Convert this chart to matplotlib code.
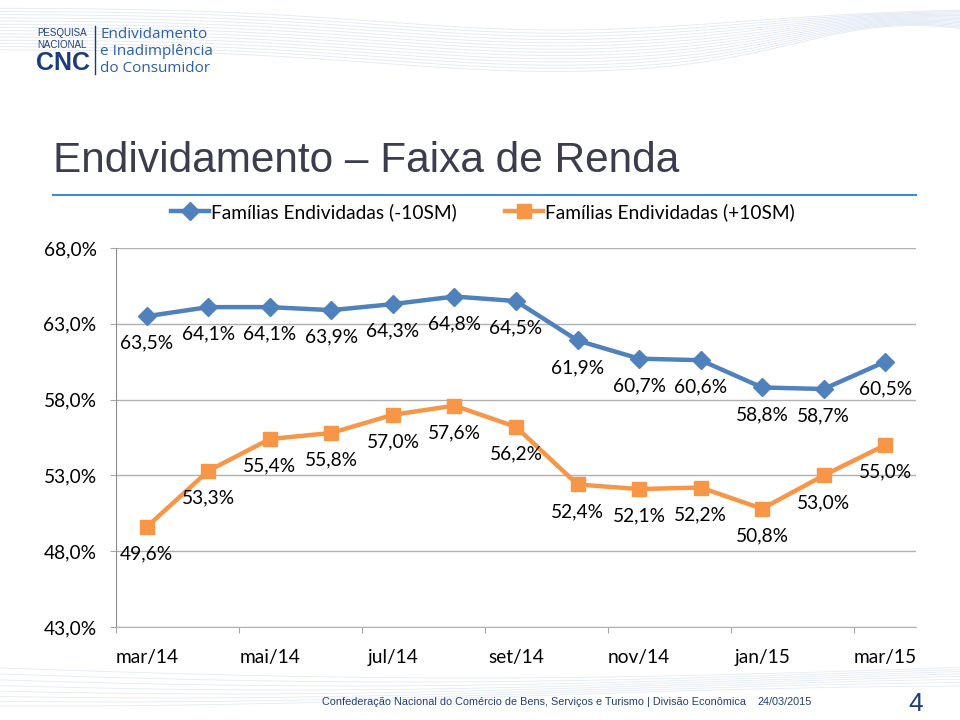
import numpy as np
import matplotlib
matplotlib.use("Agg")
import matplotlib.pyplot as plt
from matplotlib.lines import Line2D

# data
months = ["mar/14", "abr/14", "mai/14", "jun/14", "jul/14", "ago/14", "set/14",
          "out/14", "nov/14", "dez/14", "jan/15", "fev/15", "mar/15"]
ate_10sm = [63.5, 64.1, 64.1, 63.9, 64.3, 64.8, 64.5, 61.9, 60.7, 60.6, 58.8, 58.7, 60.5]
mais_10sm = [49.6, 53.3, 55.4, 55.8, 57.0, 57.6, 56.2, 52.4, 52.1, 52.2, 50.8, 53.0, 55.0]
series_names = ["Famílias Endividadas (-10SM)", "Famílias Endividadas (+10SM)"]
y_ticks = [43, 48, 53, 58, 63, 68]

BLUE = "#4F81BD"
ORANGE = "#F79646"
NAVY = "#1F3F7A"
LABEL_FONT = ["Lato", "DejaVu Sans"]
ARIAL = ["Liberation Sans", "DejaVu Sans"]


def pct(v):
    return f"{v:.1f}%".replace(".", ",")


fig = plt.figure(figsize=(9.6, 7.2), dpi=100)

# background decoration (header / footer swooshes)
bg = fig.add_axes([0, 0, 1, 1], zorder=-5)
bg.set_xlim(0, 960)
bg.set_ylim(720, 0)
bg.axis("off")
xs = np.linspace(0, 960, 300)
for k in range(14):
    top = 8 + 3.2 * k + 22 * np.exp(-((xs - 560) / 260) ** 2) - 30 * np.exp(-((xs - 900) / 140) ** 2) * (k / 14)
    bg.plot(xs, top, color="#C9D6EA", lw=0.6, alpha=0.55)
for k in range(8):
    bot = 668 + 4.0 * k + 10 * np.sin(xs / 300 + k * 0.2)
    bg.plot(xs, bot, color="#C9D6EA", lw=0.6, alpha=0.5)

# logo
fig.text(37 / 960, 1 - 33 / 720, "PESQUISA", fontsize=7, color=NAVY, va="center", family=ARIAL)
fig.text(37 / 960, 1 - 45 / 720, "NACIONAL", fontsize=7, color=NAVY, va="center", family=ARIAL)
fig.text(36 / 960, 1 - 63 / 720, "CNC", fontsize=18, color="#1A3C7C", va="center",
         weight="bold", family=ARIAL)
bg.plot([95, 95], [26, 74], color="#1A3C7C", lw=1)
for i, t in enumerate(["Endividamento", "e Inadimplência", "do Consumidor"]):
    fig.text(100 / 960, 1 - (34 + 17.5 * i) / 720, t, fontsize=11, color="#2C5FA8",
             va="center", family=["Open Sans", "DejaVu Sans"])

# title with underline
fig.text(53 / 960, 1 - 172 / 720, "Endividamento \u2013 Faixa de Renda", fontsize=30.5,
         color="#3B3D4F", va="baseline", family=ARIAL)
bg.plot([53, 916], [195, 195], color="#3E8DCB", lw=1.5)

# chart
ax = fig.add_axes([116 / 960, 1 - 627 / 720, 800 / 960, 379 / 720])
x = np.arange(len(months))
ax.plot(x, ate_10sm, color=BLUE, lw=3.2, marker="D", ms=9, zorder=3)
ax.plot(x, mais_10sm, color=ORANGE, lw=3.2, marker="s", ms=10, zorder=3)

for series in (ate_10sm, mais_10sm):
    for xi, v in zip(x, series):
        ax.annotate(pct(v), (xi, v), xytext=(0, -19.5), textcoords="offset points",
                    ha="center", va="center", fontsize=13.8, family=LABEL_FONT, color="black")

ax.set_xlim(-0.5, len(months) - 0.5)
ax.set_ylim(43, 68)
ax.set_yticks(y_ticks)
ax.set_yticklabels([pct(v) for v in y_ticks], fontsize=13.8, family=LABEL_FONT)
ax.yaxis.grid(True, color="#B0B0B0", lw=1.0)
ax.set_axisbelow(True)

ax.set_xticks(np.arange(-0.5, len(months) - 1, 2))
ax.set_xticklabels([])
ax.set_xticks(x[::2], minor=True)
ax.set_xticklabels(months[::2], minor=True, fontsize=13.8, family=LABEL_FONT)
ax.tick_params(axis="x", which="major", length=4, color="#A6A6A6", direction="out")
ax.tick_params(axis="x", which="minor", length=0, pad=16)
ax.tick_params(axis="y", length=4, color="#A6A6A6", pad=10)

for s in ("top", "right"):
    ax.spines[s].set_visible(False)
ax.spines["left"].set_color("#8C8C8C")
ax.spines["bottom"].set_color("#B0B0B0")

handles = [Line2D([], [], color=BLUE, lw=3.2, marker="D", ms=9),
           Line2D([], [], color=ORANGE, lw=3.2, marker="s", ms=10)]
fig.legend(handles, series_names, loc="center", bbox_to_anchor=(0.503, 1 - 212 / 720),
           ncol=2, frameon=False, handlelength=2.0, handletextpad=0.1, columnspacing=2.5,
           prop={"family": LABEL_FONT, "size": 13.8})

# footer
fig.text(322 / 960, 1 - 702 / 720,
         "Confederação Nacional do Comércio de Bens, Serviços e Turismo | Divisão Econômica",
         fontsize=7.8, color=NAVY, va="center", family=ARIAL)
fig.text(757 / 960, 1 - 702 / 720, "24/03/2015", fontsize=7.8, color=NAVY, va="center",
         family=ARIAL)
fig.text(916 / 960, 1 - 704 / 720, "4", fontsize=19, color=NAVY, va="center", ha="center",
         family=ARIAL)

fig.savefig("out.png", dpi=100)
